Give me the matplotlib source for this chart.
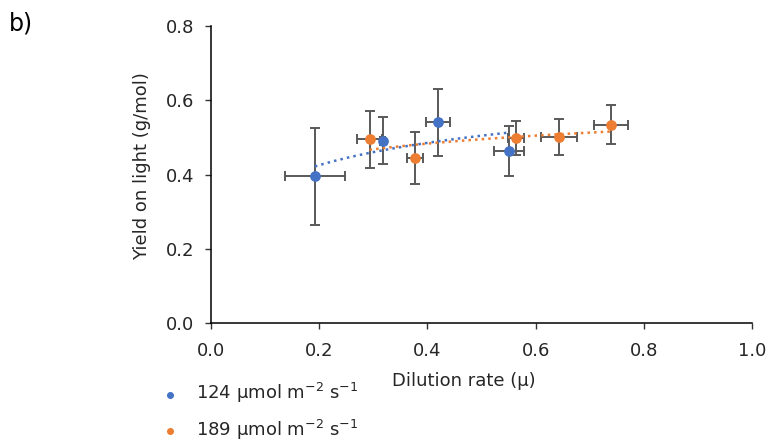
import numpy as np
import matplotlib.pyplot as plt

plt.rcParams['font.family'] = ['DejaVu Sans']

# 124 umol m-2 s-1 series
x_low = [0.192, 0.317, 0.419, 0.551]
y_low = [0.395, 0.491, 0.540, 0.463]
xerr_low = [0.056, 0.005, 0.022, 0.028]
yerr_low = [0.130, 0.063, 0.090, 0.067]

# 189 umol m-2 s-1 series
x_high = [0.293, 0.377, 0.564, 0.643, 0.739]
y_high = [0.495, 0.444, 0.498, 0.501, 0.534]
xerr_high = [0.023, 0.014, 0.015, 0.033, 0.031]
yerr_high = [0.077, 0.070, 0.045, 0.048, 0.053]

labels = [r'124 µmol m$^{\mathregular{-2}}$ s$^{\mathregular{-1}}$',
          r'189 µmol m$^{\mathregular{-2}}$ s$^{\mathregular{-1}}$']
blue = '#4472C4'
orange = '#ED7D31'
err_col = '#595959'
txt_col = '#262626'

fig = plt.figure(figsize=(7.71, 4.43), dpi=100)
ax = fig.add_axes([0.2737, 0.2698, 0.7017, 0.6722])

series = [(x_low, y_low, xerr_low, yerr_low, blue),
          (x_high, y_high, xerr_high, yerr_high, orange)]

handles = []
for (xs, ys, xe, ye, col), lab in zip(series, labels):
    ax.errorbar(xs, ys, xerr=xe, yerr=ye, fmt='none', ecolor=err_col,
                elinewidth=1.4, capsize=3.5, capthick=1.4, zorder=2)
    # logarithmic trendline over the data range
    a, b = np.polyfit(np.log(xs), ys, 1)
    xt = np.linspace(min(xs), max(xs), 100)
    ax.plot(xt, a * np.log(xt) + b, ls=':', lw=1.8, color=col, zorder=3)
    h = ax.scatter(xs, ys, s=45, color=col, zorder=4, label=lab)
    handles.append(h)

ax.set_xlim(0, 1.0)
ax.set_ylim(0, 0.8)
ax.set_xticks(np.arange(0, 1.01, 0.2))
ax.set_yticks(np.arange(0, 0.81, 0.2))
ax.xaxis.set_major_formatter(plt.FormatStrFormatter('%.1f'))
ax.yaxis.set_major_formatter(plt.FormatStrFormatter('%.1f'))
ax.tick_params(labelsize=13, length=4, width=1, color='#333333',
               labelcolor=txt_col)
ax.tick_params(axis='x', pad=9)
ax.tick_params(axis='y', pad=8)
for s in ['top', 'right']:
    ax.spines[s].set_visible(False)
for s in ['left', 'bottom']:
    ax.spines[s].set_linewidth(1.1)

ax.set_xlabel('Dilution rate (µ)', fontsize=13, color=txt_col)
ax.xaxis.set_label_coords(0.468, -0.163)
ax.set_ylabel('Yield on light (g/mol)', fontsize=13, color=txt_col)
ax.yaxis.set_label_coords(-0.11, 0.53)

fig.legend(handles=handles, labels=labels, loc='upper left',
           bbox_to_anchor=(0.2, 0.16), frameon=False, fontsize=13,
           handlelength=0.8, handletextpad=1.0, labelspacing=0.7,
           markerscale=0.6, borderpad=0, labelcolor=txt_col)

fig.text(0.012, 0.932, 'b)', fontsize=17, color='black')

fig.savefig('out.png', dpi=100)
